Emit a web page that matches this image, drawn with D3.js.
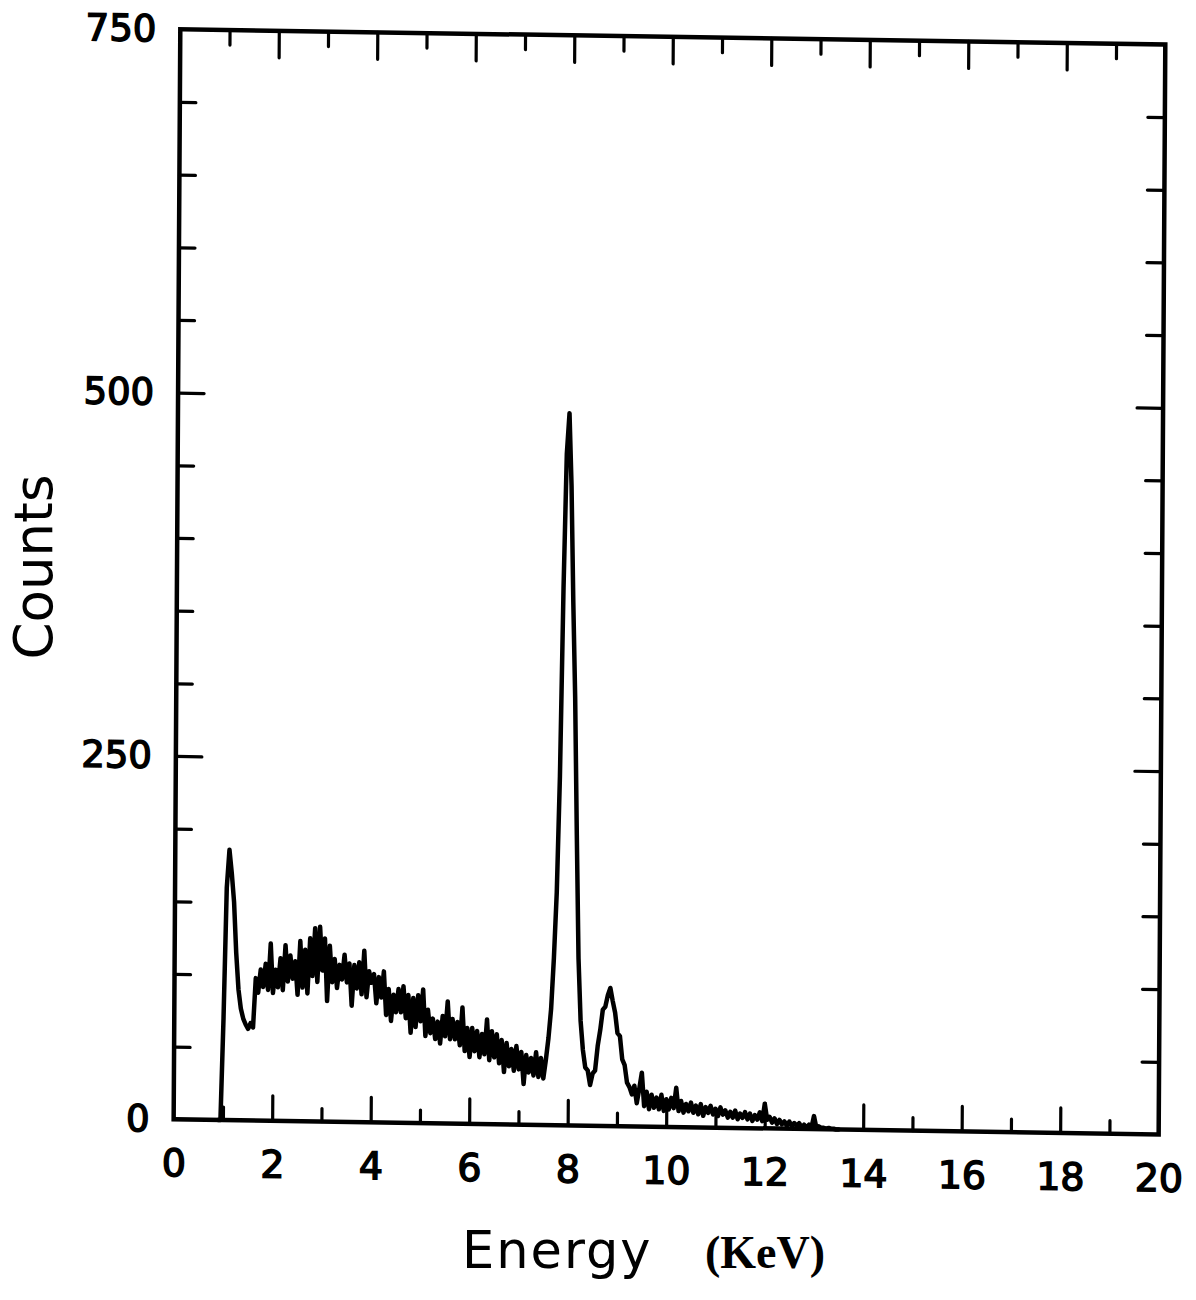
<!DOCTYPE html>
<html>
<head>
<meta charset="utf-8">
<script src="https://cdnjs.cloudflare.com/ajax/libs/d3/7.8.5/d3.min.js"></script>
<style>
  body { margin: 0; background: #fff; }
</style>
</head>
<body>
<div id="spectrum"></div>
<script>
// Spectrum counts, one value per 0.05 keV channel
var channelStep = 0.05;

// L line peak near 1 keV
var lowStart = 0.90;
var lowCounts = [0, 0, 70, 160, 186, 170, 150, 115, 90, 77, 70, 66, 63, 67, 64];

// noisy bremsstrahlung hump, 1.65 - 7.55 keV
var bandStart = 1.65;
var bandCounts = [
  98, 88, 104, 92, 108, 90, 122, 88, 104, 92,
  112, 90, 121, 96, 114, 98, 110, 87, 124, 92,
  118, 88, 126, 100, 133, 96, 134, 104, 126, 83,
  121, 96, 112, 92, 108, 98, 115, 96, 109, 80,
  108, 92, 110, 88, 118, 86, 104, 96, 102, 82,
  100, 86, 104, 74, 92, 70, 88, 76, 92, 76,
  94, 72, 88, 62, 86, 66, 88, 70, 92, 60,
  78, 62, 72, 58, 70, 55, 74, 60, 84, 58,
  72, 58, 70, 54, 80, 50, 66, 46, 66, 50,
  64, 46, 62, 48, 72, 44, 64, 46, 62, 42,
  58, 36, 56, 40, 52, 37, 54, 38, 50, 28,
  48, 36, 46, 34, 50, 33, 46, 32, 45
];

// K alpha / K beta peaks, 7.60 - 9.25 keV
var peakStart = 7.60;
var peakCounts = [
  60, 80, 115, 160, 240, 370, 462, 490, 440, 360,
  294, 200, 115, 72, 52, 40, 38, 28, 36, 38,
  55, 66, 80, 82, 90, 95, 86, 78, 64, 62,
  46, 42, 30, 27
];

// high energy tail, 9.30 - 13.50 keV
var tailStart = 9.30;
var tailCounts = [
  22, 28, 16, 26, 37, 14, 24, 12, 22, 13,
  20, 12, 22, 11, 19, 12, 20, 13, 27, 11,
  18, 10, 16, 11, 17, 10, 15, 9, 16, 8,
  14, 10, 15, 9, 13, 8, 14, 9, 12, 7,
  11, 7, 12, 6, 10, 7, 11, 6, 10, 5,
  9, 6, 11, 5, 17, 6, 8, 4, 7, 3,
  6, 3, 5, 2, 5, 2, 4, 2, 4, 1,
  3, 1, 3, 1, 9, 1, 2, 1, 1, 0.5,
  1, 0.5, 0.5, 0, 0
];

// tick values
var xLabelTicks = [0, 2, 4, 6, 8, 10, 12, 14, 16, 18, 20];
var xInnerTicks = [1, 2, 3, 4, 5, 6, 7, 8, 9, 10, 11, 12, 13, 14, 15, 16, 17, 18, 19];
var yLabelTicks = [0, 250, 500, 750];
var yInnerTicks = [50, 100, 150, 200, 250, 300, 350, 400, 450, 500, 550, 600, 650, 700];

var svgWidth = 1196;
var svgHeight = 1300;
var width = 985;
var height = 1090;

var svg = d3.select("#spectrum")
  .append("svg")
  .attr("width", svgWidth)
  .attr("height", svgHeight);

svg.append("rect")
  .attr("width", svgWidth)
  .attr("height", svgHeight)
  .attr("fill", "#fff");

// the scanned frame is a bit sheared, so the plot lives in a skewed group
var chartGroup = svg.append("g")
  .attr("transform", "matrix(1,0.0154,-0.0061,1,180.3,29.3)");

// Step 1: build channel list
var spectrum = [];
function addChannels(start, counts) {
  counts.forEach(function(c, i) {
    spectrum.push({ energy: start + i * channelStep, counts: c });
  });
}
addChannels(lowStart, lowCounts);
addChannels(bandStart, bandCounts);
addChannels(peakStart, peakCounts);
addChannels(tailStart, tailCounts);

// Step 2: scales
var xScale = d3.scaleLinear().domain([0, 20]).range([0, width]);
var yScale = d3.scaleLinear().domain([0, 750]).range([height, 0]);

// Step 3: spectrum trace
var line = d3.line()
  .x(d => xScale(d.energy))
  .y(d => yScale(d.counts));

chartGroup.append("path")
  .datum(spectrum)
  .attr("d", line)
  .attr("fill", "none")
  .attr("stroke", "#000")
  .attr("stroke-width", 4.5)
  .attr("stroke-linejoin", "round")
  .attr("stroke-linecap", "round");

// Step 4: inward ticks on all four sides
function styleTicks(g, attr, lengthFn) {
  g.select(".domain").remove();
  g.selectAll(".tick line")
    .attr(attr, lengthFn)
    .attr("stroke", "#000")
    .attr("stroke-width", 3.2)
    .attr("stroke-linecap", "round");
}

chartGroup.append("g")
  .attr("transform", `translate(0, ${height})`)
  .call(d3.axisTop(xScale).tickValues(xInnerTicks).tickFormat(""))
  .call(g => styleTicks(g, "y2", d => d % 2 === 0 ? -25 : -13));

chartGroup.append("g")
  .call(d3.axisBottom(xScale).tickValues(xInnerTicks).tickFormat(""))
  .call(g => styleTicks(g, "y2", d => d % 2 === 0 ? 27 : 15));

chartGroup.append("g")
  .call(d3.axisRight(yScale).tickValues(yInnerTicks).tickFormat(""))
  .call(g => styleTicks(g, "x2", d => d % 250 === 0 ? 26 : 16));

chartGroup.append("g")
  .attr("transform", `translate(${width}, 0)`)
  .call(d3.axisLeft(yScale).tickValues(yInnerTicks).tickFormat(""))
  .call(g => styleTicks(g, "x2", d => d % 250 === 0 ? -26 : -17));

// frame
chartGroup.append("rect")
  .attr("width", width)
  .attr("height", height)
  .attr("fill", "none")
  .attr("stroke", "#000")
  .attr("stroke-width", 4.5);

// Step 5: tick labels
function styleLabels(g, size) {
  g.select(".domain").remove();
  g.attr("font-family", "'DejaVu Sans', sans-serif").attr("font-size", size);
  g.selectAll("text")
    .attr("fill", "#000")
    .attr("stroke", "#000")
    .attr("stroke-width", 1.5);
}

chartGroup.append("g")
  .attr("transform", `translate(0, ${height})`)
  .call(d3.axisBottom(xScale).tickValues(xLabelTicks).tickSize(0).tickPadding(30))
  .call(g => styleLabels(g, 38));

chartGroup.append("g")
  .call(d3.axisLeft(yScale).tickValues(yLabelTicks).tickSize(0).tickPadding(24))
  .call(g => styleLabels(g, 37));

// Step 6: axis titles
svg.append("text")
  .attr("transform", "translate(52, 567) rotate(-90)")
  .attr("text-anchor", "middle")
  .style("font-family", "'DejaVu Sans', sans-serif")
  .style("font-size", "53px")
  .text("Counts");

svg.append("text")
  .attr("x", 462)
  .attr("y", 1268)
  .style("font-family", "'DejaVu Sans', sans-serif")
  .style("font-size", "51px")
  .style("letter-spacing", "2px")
  .text("Energy");

svg.append("text")
  .attr("x", 705)
  .attr("y", 1268)
  .style("font-family", "'Liberation Serif', serif")
  .style("font-weight", "bold")
  .style("font-size", "46px")
  .text("(KeV)");
</script>
</body>
</html>
